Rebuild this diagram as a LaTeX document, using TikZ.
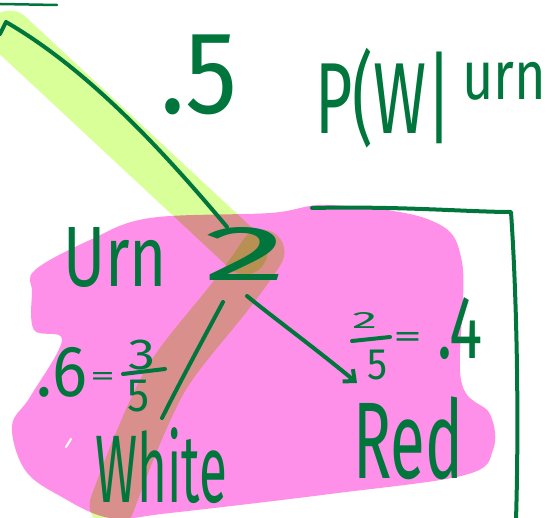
\documentclass[tikz,border=0pt]{standalone}
\usepackage{fontspec}
\usepackage{graphicx}
\usetikzlibrary{arrows.meta, calc}
\newfontfamily\handfont{Fira Sans}
\definecolor{pen}{HTML}{00763C}
\definecolor{hlpink}{HTML}{FF90EA}
\definecolor{hllime}{HTML}{D9FF99}
\newcommand{\hw}[3]{\resizebox*{#1}{#2}{\handfont #3}}
\tikzset{
  ink/.style={draw=pen, line width=4pt, line cap=round, line join=round},
  hand/.style={inner sep=0pt, outer sep=0pt, anchor=north west, text=pen},
  limemark/.style={draw=hllime, line width=45pt, line cap=round, line join=round},
}
\begin{document}
\begin{tikzpicture}[x=1pt, y=-1pt]
  \useasboundingbox (0,0) rectangle (548,518);
  \clip (0,0) rectangle (548,518);

  % highlighter
  \fill[hlpink] plot[smooth cycle, tension=0.6] coordinates {
    (35,270) (90,240) (150,218) (270,213) (330,205) (430,220) (462,262)
    (461,380) (490,414) (493,450) (465,475) (330,494) (170,513) (110,518)
    (60,496) (25,470) (12,426) (30,397) (62,340) (34,330) (32,292)};
  \begin{scope}[blend mode=multiply]
    \draw[limemark] (10,33) -- (245,252);
    \draw[limemark] (262,252) .. controls (225,310) and (180,350) .. (160,390)
      .. controls (140,430) and (125,470) .. (112,505);
  \end{scope}
  \draw[white, line width=2pt, line cap=round] (66,447) -- (71,439);

  % text
  \node[hand] (half) at (160,35) {\hw{78pt}{80pt}{.5}};
  \node[hand] (pw) at (315,48) {\hw{137pt}{100pt}{P(W|}};
  \node[hand] (urngiven) at (462,62) {\hw{84pt}{38pt}{urn}};
  \node[hand] (urn) at (63,228) {\hw{104pt}{60pt}{Urn}};
  \node[hand] (two) at (203,227) {\hw{84pt}{53pt}{2}};
  \node[hand] (sixdot) at (37,347) {\hw{50pt}{50pt}{.6}};
  \node[hand] (eqa) at (90,372) {\hw{25pt}{13pt}{=}};
  \node[hand] (threea) at (128,340) {\hw{27pt}{30pt}{3}};
  \node[hand] (fivea) at (127,380) {\hw{22pt}{32pt}{5}};
  \node[hand] (twob) at (352,312) {\hw{25pt}{16pt}{2}};
  \node[hand] (fiveb) at (367,350) {\hw{20pt}{30pt}{5}};
  \node[hand] (eqb) at (393,332) {\hw{29pt}{15pt}{=}};
  \node[hand] (fourdot) at (437,298) {\hw{46pt}{62pt}{.4}};
  \node[hand] (white) at (95,428) {\hw{132pt}{76pt}{White}};
  \node[hand] (red) at (353,397) {\hw{110pt}{83pt}{Red}};

  % fraction bars
  \draw[ink] (123,374) -- (165,369);
  \draw[ink] (352,341) -- (390,337);

  % tree
  \coordinate (root) at (6,22);
  \draw[ink, line width=2.5pt] (0,4) -- (57,5);
  \draw[ink] (0,34) -- (root) .. controls (80,65) and (150,135) .. ($(two.north west)+(24,0)$);
  \draw[ink] ($(two.south west)+(20,22)$) .. controls (200,345) and (180,382) .. ($(white.north west)+(67,-10)$);
  \draw[ink, -{Straight Barb[length=9pt,width=16pt]}] ($(two.south west)+(44,16)$)
    .. controls (270,315) and (320,352) .. ($(red.north west)+(4,-14)$);
  \draw[ink] (312,208) .. controls (400,206) and (470,212) .. (511,212)
    .. controls (517,300) and (519,420) .. (516,520);
\end{tikzpicture}
\end{document}
